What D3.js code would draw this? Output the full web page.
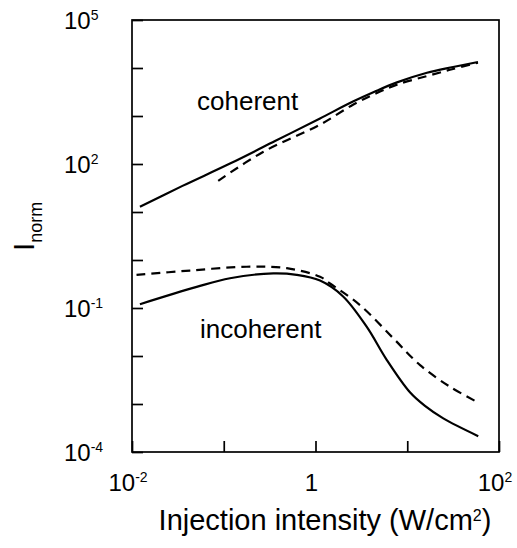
<!DOCTYPE html>
<html>
<head>
<meta charset="utf-8">
<script src="https://cdn.jsdelivr.net/npm/d3@7"></script>
<style>
  html, body { margin: 0; padding: 0; background: #fff; }
  svg { display: block; font-family: "Liberation Sans", Arial, Helvetica, sans-serif; }
</style>
</head>
<body>
<svg id="chart" width="517" height="548"></svg>
<script>
// ---- data ----
const coherentSolidX = [0.0122, 0.0355, 0.117, 0.362, 1.12, 2.56, 4.45, 7.73, 16.4, 31.6, 59.0];
const coherentSolidY = [12.9, 35.0, 102, 300, 891, 1995, 3236, 5012, 7943, 10471, 13335];

const coherentDashX = [0.087, 0.268, 1.12, 2.56, 4.45, 7.73, 16.4, 31.6, 59.0];
const coherentDashY = [44.7, 178, 660, 1720, 2900, 4500, 6800, 9550, 12882];

const incoherentSolidX = [0.0122, 0.0507, 0.117, 0.347, 0.624, 1.12, 2.0, 3.61, 5.97, 10.7, 15.6, 24.7, 59.4];
const incoherentSolidY = [0.120, 0.275, 0.417, 0.525, 0.490, 0.372, 0.174, 0.0407, 0.00832, 0.00175, 0.000912, 0.000501, 0.000214];

const incoherentDashX = [0.0112, 0.0428, 0.178, 0.485, 1.12, 1.44, 3.05, 7.05, 13.8, 29.2, 59.4];
const incoherentDashY = [0.490, 0.603, 0.724, 0.676, 0.447, 0.324, 0.115, 0.0234, 0.00646, 0.00229, 0.00107];

const yTickValues = [1e-4, 1e-3, 1e-2, 1e-1, 1e0, 1e1, 1e2, 1e3, 1e4, 1e5];
const yLabelValues = [1e-4, 1e-1, 1e2, 1e5];
const yLabelBase = ["10", "10", "10", "10"];
const yLabelExp = ["-4", "-1", "2", "5"];

const xTickValues = [1e-2, 1e-1, 1e0, 1e1, 1e2];
const xLabelValues = [1e-2, 1e0, 1e2];
const xLabelBase = ["10", "1", "10"];
const xLabelExp = ["-2", "", "2"];

const seriesLabels = ["coherent", "incoherent"];

// ---- layout ----
const svg = d3.select("#chart");
const mLeft = 132, mRight = 499, mTop = 20, mBottom = 452;

const x = d3.scaleLog().domain([1e-2, 1e2]).range([mLeft, mRight]);
const y = d3.scaleLog().domain([1e-4, 1e5]).range([mBottom, mTop]);

// frame
svg.append("rect")
  .attr("x", mLeft).attr("y", mTop)
  .attr("width", mRight - mLeft).attr("height", mBottom - mTop)
  .attr("fill", "none").attr("stroke", "#000").attr("stroke-width", 1.7);

// y axis ticks (inward)
const yAxis = d3.axisLeft(y).tickValues(yTickValues).tickSize(-11).tickFormat("");
const gy = svg.append("g").attr("transform", `translate(${mLeft},0)`).call(yAxis);
gy.select(".domain").remove();
gy.selectAll(".tick line").attr("stroke", "#000").attr("stroke-width", 1.7);

// x axis ticks (inward)
const xAxis = d3.axisBottom(x).tickValues(xTickValues).tickSize(-11).tickFormat("");
const gx = svg.append("g").attr("transform", `translate(0,${mBottom})`).call(xAxis);
gx.select(".domain").remove();
gx.selectAll(".tick line").attr("stroke", "#000").attr("stroke-width", 1.7);

// y tick labels
yLabelValues.forEach((v, i) => {
  const t = svg.append("text")
    .attr("x", 64).attr("y", y(v) + 9)
    .attr("font-size", 24).attr("fill", "#000");
  t.append("tspan").text(yLabelBase[i]);
  t.append("tspan").attr("font-size", 14).attr("dy", -9).text(yLabelExp[i]);
});

// x tick labels
xLabelValues.forEach((v, i) => {
  const t = svg.append("text")
    .attr("x", x(v) - 4).attr("y", 491)
    .attr("text-anchor", "middle")
    .attr("font-size", 24).attr("fill", "#000");
  t.append("tspan").text(xLabelBase[i]);
  if (xLabelExp[i]) t.append("tspan").attr("font-size", 14).attr("dy", -9).text(xLabelExp[i]);
});

// axis titles
const xt = svg.append("text")
  .attr("x", 325).attr("y", 530)
  .attr("text-anchor", "middle").attr("font-size", 29).attr("fill", "#000");
xt.append("tspan").text("Injection intensity (W/cm");
xt.append("tspan").attr("font-size", 16).attr("dy", -9).text("2");
xt.append("tspan").attr("dy", 9).text(")");

const yt = svg.append("text")
  .attr("transform", "translate(34,251) rotate(-90)")
  .attr("font-size", 30).attr("fill", "#000");
yt.append("tspan").text("I");
yt.append("tspan").attr("font-size", 18).attr("dy", 8).text("norm");

// curves
const line = d3.line()
  .x(d => x(d[0])).y(d => y(d[1]))
  .curve(d3.curveCatmullRom.alpha(0.5));

function draw(xs, ys, dashed) {
  svg.append("path")
    .datum(xs.map((v, i) => [v, ys[i]]))
    .attr("d", line)
    .attr("fill", "none")
    .attr("stroke", "#000")
    .attr("stroke-width", 2.2)
    .attr("stroke-dasharray", dashed ? "9,6" : null);
}
draw(coherentSolidX, coherentSolidY, false);
draw(coherentDashX, coherentDashY, true);
draw(incoherentSolidX, incoherentSolidY, false);
draw(incoherentDashX, incoherentDashY, true);

// annotations
svg.append("text").attr("x", 197).attr("y", 110)
  .attr("font-size", 26).attr("fill", "#000").text(seriesLabels[0]);
svg.append("text").attr("x", 200).attr("y", 338)
  .attr("font-size", 26).attr("fill", "#000").text(seriesLabels[1]);
</script>
</body>
</html>
